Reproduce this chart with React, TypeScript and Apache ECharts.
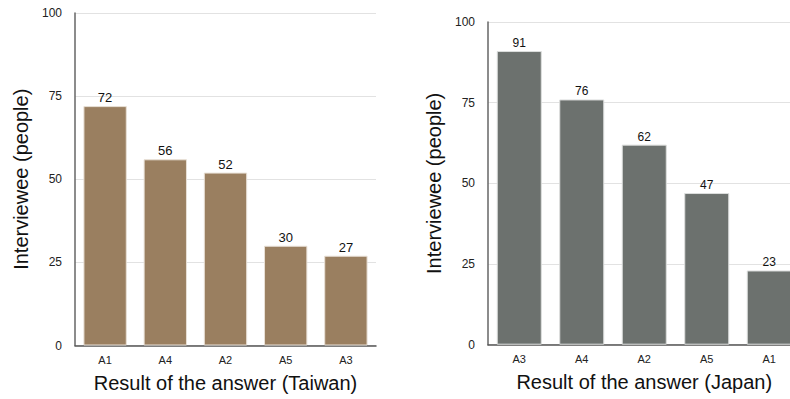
import React, { useEffect, useRef } from "react";
import * as echarts from "echarts";

const taiwanCategories = ["A1", "A4", "A2", "A5", "A3"];
const taiwanValues = [72, 56, 52, 30, 27];
const japanCategories = ["A3", "A4", "A2", "A5", "A1"];
const japanValues = [91, 76, 62, 47, 23];
const yMin = 0;
const yMax = 100;
const yInterval = 25;

const FONT = "'Liberation Sans', Arial, Helvetica, sans-serif";

function yAxis(gridIndex: number) {
  return {
    type: "value" as const,
    gridIndex,
    min: yMin,
    max: yMax,
    interval: yInterval,
    name: "Interviewee (people)",
    nameLocation: "middle" as const,
    nameGap: 44,
    nameTextStyle: { fontSize: 20, color: "#111", fontFamily: FONT },
    axisLine: { show: true, lineStyle: { color: "#666", width: 1.5 } },
    axisTick: { show: false },
    axisLabel: { margin: 13, fontSize: 12, color: "#222", fontFamily: FONT },
    splitLine: { show: true, lineStyle: { color: "#e2e2e2", width: 1 } },
  };
}

function xAxis(gridIndex: number, cats: string[], name: string, gap: number) {
  return {
    type: "category" as const,
    gridIndex,
    data: cats,
    name,
    nameLocation: "middle" as const,
    nameGap: gap,
    nameTextStyle: { fontSize: 20, color: "#111", fontFamily: FONT },
    axisLine: { show: true, lineStyle: { color: "#555", width: 1.5 } },
    axisTick: { show: false },
    axisLabel: { margin: 9, fontSize: 11, color: "#222", fontFamily: FONT },
    splitLine: { show: false },
  };
}

export default function App() {
  const ref = useRef<HTMLDivElement>(null);
  useEffect(() => {
    document.body.style.margin = "0";
    if (!ref.current) return;
    const chart = echarts.init(ref.current, undefined, { renderer: "svg" });
    chart.setOption({
      animation: false,
      backgroundColor: "#ffffff",
      textStyle: { fontFamily: FONT },
      grid: [
        { left: 75, top: 13, width: 301, bottom: 53.5, containLabel: false },
        { left: 488, top: 22, width: 312.5, bottom: 54.3, containLabel: false },
      ],
      xAxis: [
        xAxis(0, taiwanCategories, "Result of the answer (Taiwan)", 27),
        { ...xAxis(1, japanCategories, "Result of the answer (Japan)", 27), nameTextStyle: { fontSize: 20, color: "#111", fontFamily: FONT, padding: [0, 0, 0, 0] } },
      ],
      yAxis: [yAxis(0), yAxis(1)],
      series: [
        {
          type: "bar",
          xAxisIndex: 0,
          yAxisIndex: 0,
          data: taiwanValues,
          barWidth: "72%",
          itemStyle: { color: "#9a7f60", borderColor: "#e8e0d6", borderWidth: 1 },
          label: { show: true, position: "top", distance: 2, fontSize: 13, color: "#111", fontFamily: FONT },
        },
        {
          type: "bar",
          xAxisIndex: 1,
          yAxisIndex: 1,
          data: japanValues,
          barWidth: "72%",
          itemStyle: { color: "#6c716e", borderColor: "#dcdedd", borderWidth: 1 },
          label: { show: true, position: "top", distance: 2, fontSize: 12, color: "#111", fontFamily: FONT },
        },
      ],
      graphic: [],
    });
    return () => chart.dispose();
  }, []);
  return (
    <div style={{ width: 790, height: 399, overflow: "hidden", position: "relative" }}>
      <div ref={ref} style={{ width: 812, height: 399 }} />
    </div>
  );
}
